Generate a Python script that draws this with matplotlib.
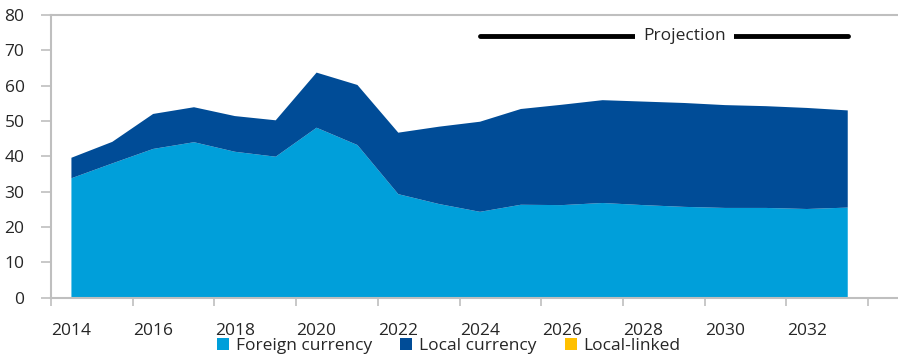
import numpy as np
import matplotlib
matplotlib.use('Agg')
import matplotlib.pyplot as plt
from matplotlib.patches import Patch

plt.rcParams['font.family'] = ['Open Sans', 'DejaVu Sans']

years = list(range(2014, 2034))
total = [39.6, 44.1, 52.0, 53.9, 51.4, 50.2, 63.7, 60.2, 46.7, 48.4,
         49.8, 53.4, 54.6, 55.9, 55.5, 55.1, 54.5, 54.2, 53.7, 53.0]
foreign = [33.8, 38.0, 42.1, 44.0, 41.3, 39.9, 48.1, 43.2, 29.3, 26.5,
           24.3, 26.3, 26.2, 26.8, 26.2, 25.7, 25.4, 25.4, 25.1, 25.5]
local = [t - f for t, f in zip(total, foreign)]
linked = [0.0] * len(years)

labels = ["Foreign currency", "Local currency", "Local-linked"]
colors = ["#009FDA", "#004C97", "#FFC000"]

x = np.arange(len(years))

fig = plt.figure(figsize=(8.98, 3.58), dpi=100)
ax = fig.add_axes([51/898, 1-297.7/358, 1-51/898, (297.7-15)/358])
ax.stackplot(x, foreign, local, linked, colors=colors, linewidth=0)

ax.set_xlim(-0.5, 20.23)
ax.set_ylim(0, 80)
ax.set_yticks(range(0, 81, 10))
ax.set_xticks(x[::2])
ax.set_xticklabels([str(y) for y in years[::2]])
ax.set_xticks(np.arange(-0.5, 20, 2), minor=True)
ax.tick_params(axis='x', which='major', length=0, pad=18, labelsize=12.5, labelcolor='#262626')
ax.tick_params(axis='x', which='minor', length=6, color='#BFBFBF', width=1.2)
ax.tick_params(axis='y', length=7, color='#BFBFBF', width=1.2, pad=12, labelsize=12.5, labelcolor='#262626')

for s in ['left', 'bottom', 'top']:
    ax.spines[s].set_color('#BFBFBF')
    ax.spines[s].set_linewidth(1.5)
ax.spines['right'].set_visible(False)

# projection marker
ax.plot([10, 19], [74, 74], color='black', lw=3.5, solid_capstyle='round')
ax.text(15, 74, "Projection", ha='center', va='center', fontsize=12.5, color='#262626',
        bbox=dict(facecolor='white', edgecolor='none', pad=6))

handles = [Patch(facecolor=c, label=l) for c, l in zip(colors, labels)]
fig.legend(handles=handles, loc='center', bbox_to_anchor=(0.5, 1-346/358), ncol=3,
           frameon=False, fontsize=12.5, handlelength=0.7, handleheight=0.7,
           handletextpad=0.4, columnspacing=1.6, labelcolor='#262626')

fig.savefig("out.png", dpi=100)
